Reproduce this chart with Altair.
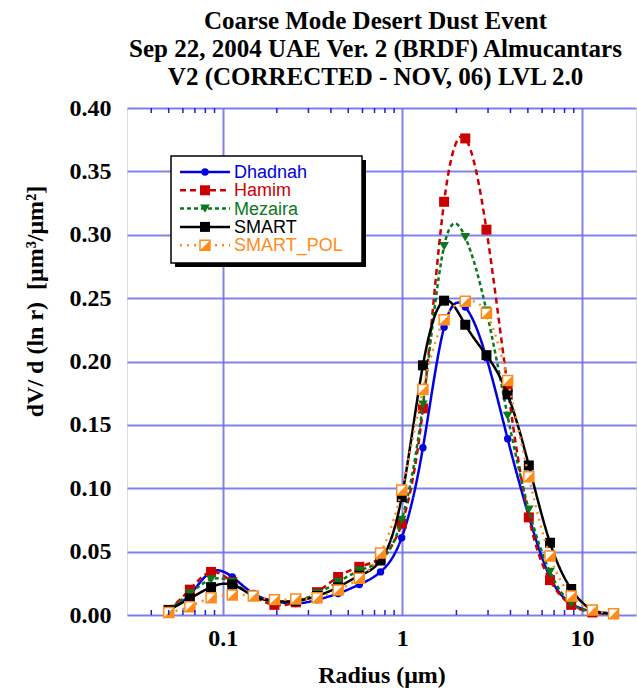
import altair as alt
import pandas as pd

radius = [0.05, 0.0656, 0.0861, 0.113, 0.148, 0.194, 0.255, 0.335, 0.439, 0.576, 0.756,
          0.992, 1.302, 1.708, 2.241, 2.94, 3.857, 5.061, 6.641, 8.713, 11.432, 15.0]

dhadnah = [0.004, 0.016, 0.034, 0.030, 0.017, 0.011, 0.009, 0.012, 0.017, 0.024, 0.034,
           0.061, 0.132, 0.227, 0.243, 0.203, 0.139, 0.078, 0.030, 0.009, 0.003, 0.001]
hamim = [0.004, 0.020, 0.034, 0.026, 0.015, 0.008, 0.010, 0.018, 0.030, 0.038, 0.045,
         0.072, 0.163, 0.326, 0.376, 0.304, 0.180, 0.077, 0.0275, 0.008, 0.002, 0.001]
mezaira = [0.004, 0.017, 0.028, 0.026, 0.015, 0.011, 0.011, 0.017, 0.026, 0.035, 0.043,
           0.075, 0.166, 0.291, 0.298, 0.240, 0.157, 0.083, 0.034, 0.009, 0.003, 0.001]
smart = [0.004, 0.013, 0.022, 0.024, 0.015, 0.011, 0.011, 0.015, 0.022, 0.031, 0.043,
         0.093, 0.197, 0.248, 0.229, 0.205, 0.174, 0.118, 0.057, 0.0205, 0.004, 0.001]
smart_pol = [0.002, 0.0066, 0.0137, 0.0158, 0.015, 0.012, 0.0126, 0.0137, 0.0197, 0.029, 0.049,
             0.0986, 0.178, 0.233, 0.2475, 0.238, 0.185, 0.109, 0.0465, 0.015, 0.004, 0.001]

series_names = ["Dhadnah", "Hamim", "Mezaira", "SMART", "SMART_POL"]
series_vals = [dhadnah, hamim, mezaira, smart, smart_pol]

x_labels = [0.1, 1, 10]
y_ticks = [0.0, 0.05, 0.10, 0.15, 0.20, 0.25, 0.30, 0.35, 0.40]
minor_ticks = [0.04, 0.05, 0.06, 0.07, 0.08, 0.09, 0.2, 0.3, 0.4, 0.5, 0.6, 0.7, 0.8, 0.9,
               2, 3, 4, 5, 6, 7, 8, 9]

title_lines = ["Coarse Mode Desert Dust Event",
               "Sep 22, 2004 UAE  Ver. 2 (BRDF) Almucantars",
               "V2 (CORRECTED - NOV, 06) LVL 2.0"]

ORANGE = "#ff8c1a"
styles = {
    "Dhadnah": dict(color="#0000e0", dash=[1, 0], shape="circle", size=55),
    "Hamim": dict(color="#cc0000", dash=[6, 4], shape="square", size=100),
    "Mezaira": dict(color="#087a1c", dash=[4, 3], shape="triangle-down", size=95),
    "SMART": dict(color="#000000", dash=[1, 0], shape="square", size=100),
    "SMART_POL": dict(color=ORANGE, dash=[2, 5], shape="half", size=100),
}

W, H = 509, 507
SERIF = "Liberation Serif"
SANS = "Liberation Sans"
GRID = "#6c6ce8"
FRAME = "#1f1fd8"

xscale = alt.Scale(type="log", domain=[0.0293, 20], nice=False)
yscale = alt.Scale(domain=[0, 0.4], nice=False)

xaxis = alt.Axis(values=x_labels, format="~g", title="Radius (μm)", grid=True, ticks=False,
                 domain=False, labelFont=SERIF, labelFontWeight="bold", labelFontSize=24,
                 labelColor="black", labelPadding=11, titleFont=SERIF, titleFontWeight="bold",
                 titleFontSize=24, titleColor="black", titlePadding=13,
                 gridColor=GRID, gridWidth=2, gridOpacity=0.85)
yaxis = alt.Axis(values=y_ticks, format=".2f", title="dV/ d (ln r)\u00a0\u00a0[μm³/μm²]", grid=True,
                 ticks=False, domain=False, labelFont=SERIF, labelFontWeight="bold",
                 labelFontSize=24, labelColor="black", labelPadding=16, titleFont=SERIF,
                 titleFontWeight="bold", titleFontSize=24, titleColor="black",
                 titleX=-92, titleY=193, titleAngle=270, titleAlign="center",
                 titleBaseline="middle",
                 gridColor=GRID, gridWidth=2, gridOpacity=0.85)

layers = []
for name, vals in zip(series_names, series_vals):
    st = styles[name]
    df = pd.DataFrame({"r": radius, "v": vals})
    base = alt.Chart(df).encode(
        x=alt.X("r:Q", scale=xscale, axis=xaxis),
        y=alt.Y("v:Q", scale=yscale, axis=yaxis),
    )
    layers.append(base.mark_line(color=st["color"], strokeWidth=2.5, strokeDash=st["dash"],
                                 interpolate="natural"))
    if st["shape"] == "half":
        layers.append(base.mark_point(shape="square", filled=True, fill="white", stroke=ORANGE,
                                      strokeWidth=1.5, size=st["size"], opacity=1))
        layers.append(base.mark_point(shape="M 1 -1 L 1 1 L -1 1 Z", filled=True, color=ORANGE,
                                      size=st["size"], opacity=1))
    else:
        layers.append(base.mark_point(shape=st["shape"], filled=True, color=st["color"],
                                      size=st["size"], opacity=1))

# inward minor ticks on bottom and top frame
tick_df = pd.DataFrame({"t": minor_ticks})
tick_base = alt.Chart(tick_df).encode(x=alt.X("t:Q", scale=xscale, axis=xaxis))
layers.append(tick_base.mark_rule(color=FRAME, strokeWidth=1.5).encode(
    y=alt.value(H), y2=alt.value(H - 5)))
layers.append(tick_base.mark_rule(color=FRAME, strokeWidth=1.5).encode(
    y=alt.value(0), y2=alt.value(5)))

# manual legend
one = pd.DataFrame({"a": [0]})
LX0, LX1, LY0, LY1 = 44, 235, 48, 155
layers.append(alt.Chart(one).mark_rect(fill="black").encode(
    x=alt.value(LX0 + 4), x2=alt.value(LX1 + 4), y=alt.value(LY0 + 4), y2=alt.value(LY1 + 4)))
layers.append(alt.Chart(one).mark_rect(fill="white", stroke="black", strokeWidth=1.5).encode(
    x=alt.value(LX0), x2=alt.value(LX1), y=alt.value(LY0), y2=alt.value(LY1)))
for i, name in enumerate(series_names):
    st = styles[name]
    yy = 64 + i * 18.3
    layers.append(alt.Chart(one).mark_rule(color=st["color"], strokeWidth=2.5,
                                           strokeDash=st["dash"]).encode(
        x=alt.value(53), x2=alt.value(103), y=alt.value(yy)))
    if st["shape"] == "half":
        layers.append(alt.Chart(one).mark_point(shape="square", filled=True, fill="white",
                                                stroke=ORANGE, strokeWidth=1.5, size=st["size"],
                                                opacity=1).encode(x=alt.value(78), y=alt.value(yy)))
        layers.append(alt.Chart(one).mark_point(shape="M 1 -1 L 1 1 L -1 1 Z", filled=True,
                                                color=ORANGE, size=st["size"], opacity=1).encode(
            x=alt.value(78), y=alt.value(yy)))
    else:
        layers.append(alt.Chart(one).mark_point(shape=st["shape"], filled=True, color=st["color"],
                                                size=st["size"], opacity=1).encode(
            x=alt.value(78), y=alt.value(yy)))
    layers.append(alt.Chart(one).mark_text(text=name, color=st["color"], font=SANS, fontSize=18,
                                           align="left", baseline="middle").encode(
        x=alt.value(107), y=alt.value(yy + 1)))

chart = alt.layer(*layers).properties(
    width=W, height=H,
    title=alt.Title(text=title_lines, font=SERIF, fontWeight="bold", fontSize=25, color="black",
                    anchor="middle", lineHeight=28, offset=6, dx=-6),
    autosize=alt.AutoSizeParams(type="none"),
    padding={"left": 127, "top": 108, "right": 1, "bottom": 76},
).configure_view(stroke=FRAME, strokeWidth=2).configure(background="white")

chart.save("out.html", embed_options={"renderer": "svg", "actions": False})
